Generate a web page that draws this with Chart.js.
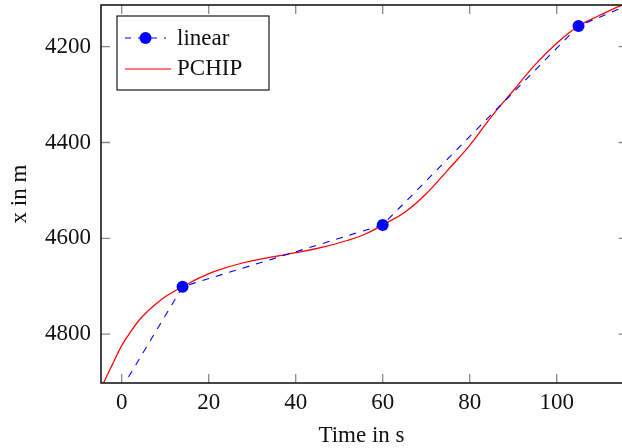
<!DOCTYPE html>
<html>
<head>
<meta charset="utf-8">
<script src="https://cdn.jsdelivr.net/npm/chart.js@4.4.1/dist/chart.umd.min.js"></script>
<style>
  html, body { margin: 0; padding: 0; background: #fff; }
  #wrap { width: 622px; height: 448px; }
</style>
</head>
<body>
<div id="wrap"><canvas id="posChart" width="622" height="448"></canvas></div>
<script>
// linear interpolation knots (first and last lie outside the visible range)
const timeLinear = [-10, 14, 60, 105, 125];
const posLinear = [5065, 4701, 4572, 4157, 4080];

// PCHIP curve, values
const timePchip = [-5, -4, -2, 0, 2, 4, 6, 8, 10, 12, 14, 18, 22, 28, 34, 40, 46, 52, 56, 60,
  65, 70, 75, 80, 85, 90, 95, 100, 105, 110, 115, 117];
const posPchip = [4920, 4899, 4861, 4824, 4796, 4771, 4752, 4736, 4722, 4711, 4701, 4682, 4667, 4651, 4640, 4630, 4619, 4604, 4591, 4572,
  4546, 4507, 4457, 4406, 4346, 4292, 4238, 4193, 4157, 4134, 4113, 4107];

const xTicks = [0, 20, 40, 60, 80, 100];
const yTicks = [4200, 4400, 4600, 4800];

// the right-hand frame line sits just past the canvas edge
const xFrameRight = 116.3;

const FONT = "'Liberation Serif', 'Times New Roman', serif";
const BLUE = "#0000ff";
const RED = "#ff0000";

// ! inward ticks on all four sides + the axis box
const frameTicks = {
  id: "frameTicks",
  afterDatasetsDraw(chart) {
    const { ctx, chartArea: a, scales: { x, y } } = chart;
    const len = 9;
    const right = x.getPixelForValue(xFrameRight);
    ctx.save();
    ctx.strokeStyle = "#8a8a8a";
    ctx.lineWidth = 1.3;
    ctx.beginPath();
    x.ticks.forEach((t) => {
      const px = x.getPixelForValue(t.value);
      ctx.moveTo(px, a.bottom);
      ctx.lineTo(px, a.bottom - len);
      ctx.moveTo(px, a.top);
      ctx.lineTo(px, a.top + len);
    });
    y.ticks.forEach((t) => {
      const py = y.getPixelForValue(t.value);
      ctx.moveTo(a.left, py);
      ctx.lineTo(a.left + len, py);
      ctx.moveTo(right, py);
      ctx.lineTo(right - len, py);
    });
    ctx.stroke();
    ctx.strokeStyle = "#1a1a1a";
    ctx.lineWidth = 1.6;
    ctx.strokeRect(a.left, a.top, right - a.left, a.bottom - a.top);
    ctx.restore();
  },
};

// ! legend box in the upper left corner
const legendBox = {
  id: "legendBox",
  afterDraw(chart) {
    const ctx = chart.ctx;
    const bx = 117, by = 16, bw = 152, bh = 74;
    ctx.save();
    ctx.fillStyle = "#fff";
    ctx.fillRect(bx, by, bw, bh);
    ctx.strokeStyle = "#1a1a1a";
    ctx.lineWidth = 1.2;
    ctx.strokeRect(bx, by, bw, bh);

    // linear: dashed line with a dot
    ctx.strokeStyle = BLUE;
    ctx.lineWidth = 1.1;
    ctx.setLineDash([6, 7]);
    ctx.beginPath();
    ctx.moveTo(125, 38);
    ctx.lineTo(166, 38);
    ctx.stroke();
    ctx.setLineDash([]);
    ctx.fillStyle = BLUE;
    ctx.beginPath();
    ctx.arc(145.5, 38, 6, 0, Math.PI * 2);
    ctx.fill();

    // PCHIP: solid red
    ctx.strokeStyle = RED;
    ctx.lineWidth = 1.2;
    ctx.beginPath();
    ctx.moveTo(125, 69);
    ctx.lineTo(171, 69);
    ctx.stroke();

    ctx.fillStyle = "#111";
    ctx.font = "23px " + FONT;
    ctx.textBaseline = "alphabetic";
    ctx.fillText("linear", 177, 45);
    ctx.fillText("PCHIP", 177, 75);
    ctx.restore();
  },
};

// no extra room for labels at the ends of the axes
const noEdgePadding = (scale) => {
  scale.paddingTop = 0;
  scale.paddingBottom = 0;
  scale.paddingLeft = 0;
  scale.paddingRight = 0;
};

const ctx = document.getElementById("posChart").getContext("2d");

const posChart = new Chart(ctx, {
  type: "line",
  data: {
    datasets: [
      {
        label: "linear",
        data: timeLinear.map((t, i) => ({ x: t, y: posLinear[i] })),
        borderColor: BLUE,
        backgroundColor: BLUE,
        borderWidth: 1.1,
        borderDash: [7, 7],
        pointRadius: 6,
        pointBorderWidth: 0,
        pointBackgroundColor: BLUE,
        tension: 0,
        fill: false,
      },
      {
        label: "PCHIP",
        data: timePchip.map((t, i) => ({ x: t, y: posPchip[i] })),
        borderColor: RED,
        borderWidth: 1.25,
        pointRadius: 0,
        tension: 0.4,
        fill: false,
      },
    ],
  },
  options: {
    responsive: false,
    animation: false,
    devicePixelRatio: 1,
    layout: {
      autoPadding: false,
      padding: { top: 5, right: 0, bottom: 0, left: 0 },
    },
    plugins: {
      legend: { display: false },
      tooltip: { enabled: false },
    },
    scales: {
      x: {
        type: "linear",
        min: -4.75,
        max: 115,
        grid: { display: false, drawTicks: false },
        border: { display: false },
        afterBuildTicks: (scale) => {
          scale.ticks = xTicks.map((v) => ({ value: v }));
        },
        afterFit: (scale) => {
          scale.height = 65;
          noEdgePadding(scale);
        },
        ticks: {
          padding: 6,
          color: "#111",
          maxRotation: 0,
          font: { family: FONT, size: 23 },
          callback: (v) => String(v),
        },
        title: {
          display: true,
          text: "Time in s",
          color: "#111",
          font: { family: FONT, size: 23, lineHeight: 1 },
          padding: { top: 0, bottom: 0.5 },
        },
      },
      y: {
        type: "linear",
        reverse: true,
        min: 4113,
        max: 4902,
        grid: { display: false, drawTicks: false },
        border: { display: false },
        afterBuildTicks: (scale) => {
          scale.ticks = yTicks.map((v) => ({ value: v }));
        },
        afterFit: (scale) => {
          scale.width = 101;
          noEdgePadding(scale);
        },
        ticks: {
          padding: 10,
          color: "#111",
          font: { family: FONT, size: 23 },
          callback: (v) => String(v),
        },
        title: {
          display: true,
          text: "x in m",
          color: "#111",
          font: { family: FONT, size: 23, lineHeight: 1 },
          padding: { top: 8, bottom: 0 },
        },
      },
    },
  },
  plugins: [frameTicks, legendBox],
});
</script>
</body>
</html>
